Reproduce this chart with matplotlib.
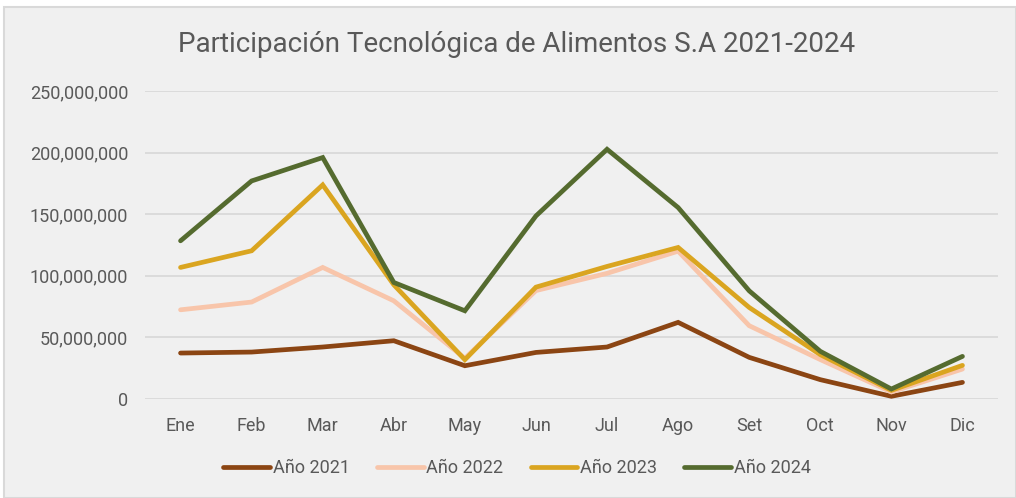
import matplotlib.pyplot as plt
from matplotlib import font_manager
from matplotlib.patches import Rectangle
from matplotlib.ticker import FuncFormatter

names = set(f.name for f in font_manager.fontManager.ttflist)
font = 'Liberation Sans Narrow' if 'Liberation Sans Narrow' in names else 'Roboto'
plt.rcParams['font.family'] = [font, 'DejaVu Sans']

meses = ['Ene', 'Feb', 'Mar', 'Abr', 'May', 'Jun', 'Jul', 'Ago', 'Set', 'Oct', 'Nov', 'Dic']
anio_2021 = [37.3, 38.1, 42.2, 47.3, 27.0, 37.8, 42.2, 62.2, 33.8, 15.7, 2.2, 13.5]
anio_2022 = [72.4, 78.7, 106.8, 79.7, 33.0, 88.0, 102.0, 120.0, 59.5, 32.0, 5.7, 24.3]
anio_2023 = [106.8, 120.3, 173.8, 92.7, 31.9, 90.8, 107.6, 123.0, 74.3, 36.0, 7.0, 27.3]
anio_2024 = [128.4, 177.0, 196.0, 94.6, 71.6, 148.6, 202.7, 155.4, 87.8, 38.7, 8.1, 34.6]

series = [('Año 2021', anio_2021, '#8B4513'),
          ('Año 2022', anio_2022, '#F8C5AA'),
          ('Año 2023', anio_2023, '#DAA520'),
          ('Año 2024', anio_2024, '#556B2F')]

fig = plt.figure(figsize=(10.16, 4.98), dpi=100, facecolor='white')
fig.patches.append(Rectangle((4/1016, 0), 1 - 4/1016, 1 - 7/498, transform=fig.transFigure,
                             facecolor='#F0F0F0', edgecolor='#D9D9D9', linewidth=1.5, zorder=-1))
ax = fig.add_axes([145/1016, 1 - 399/498, 853/1016, 308/498])
ax.set_facecolor('none')

x = range(len(meses))
for nombre, vals, color in series:
    ax.plot(x, [v * 1e6 for v in vals], color=color, linewidth=3.4, label=nombre,
            solid_capstyle='round', solid_joinstyle='miter')

ax.set_xlim(-0.5, 11.5)
ax.set_ylim(0, 250e6)
ax.set_yticks([0, 50e6, 100e6, 150e6, 200e6, 250e6])
ax.yaxis.set_major_formatter(FuncFormatter(lambda v, p: f'{int(v):,}'))
ax.set_xticks(list(x))
ax.set_xticklabels(meses)
ax.grid(axis='y', color='#D9D9D9', linewidth=1.3)
ax.set_axisbelow(True)
for s in ax.spines.values():
    s.set_visible(False)
ax.tick_params(length=0, labelsize=13, colors='#595959')
ax.tick_params(axis='x', pad=13)
ax.tick_params(axis='y', pad=12)

fig.text(517/1016, 1 - 45/498, 'Participación Tecnológica de Alimentos S.A 2021-2024',
         ha='center', va='center', fontsize=20, color='#595959')
fig.legend(loc='center', bbox_to_anchor=(517/1016, 1 - 468/498), ncol=4, frameon=False,
           fontsize=13, labelcolor='#595959', handlelength=2.6, handletextpad=0.15,
           columnspacing=1.5)

fig.savefig('out.png', dpi=100, facecolor='white')
